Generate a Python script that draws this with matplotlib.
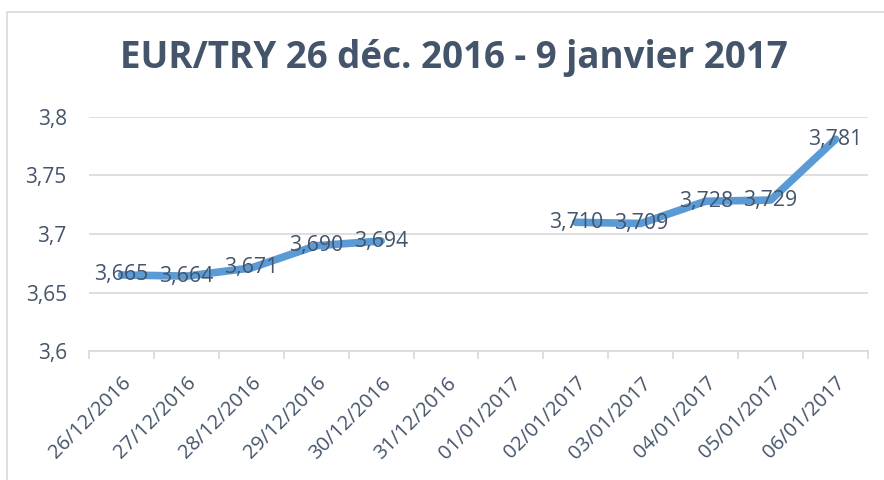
import numpy as np
import matplotlib
matplotlib.use("Agg")
import matplotlib.pyplot as plt
from matplotlib.patches import Rectangle
from matplotlib.ticker import FuncFormatter

dates = ["26/12/2016", "27/12/2016", "28/12/2016", "29/12/2016", "30/12/2016",
         "31/12/2016", "01/01/2017", "02/01/2017", "03/01/2017", "04/01/2017",
         "05/01/2017", "06/01/2017"]
rates = [3.665, 3.664, 3.671, 3.690, 3.694, np.nan, np.nan,
         3.710, 3.709, 3.728, 3.729, 3.781]
yticks = [3.6, 3.65, 3.7, 3.75, 3.8]

txt_col = "#44546A"
grid_col = "#D9D9D9"
line_col = "#5B9BD5"
plt.rcParams['font.family'] = ['Open Sans', 'DejaVu Sans']

fig = plt.figure(figsize=(8.84, 4.8), dpi=100)
W, H = 884, 480
ax = fig.add_axes([89 / W, 1 - 351 / H, (868 - 89) / W, (351 - 117) / H])

# chart frame
fig.patches.append(Rectangle((7 / W, -0.1), 1.2, 1.1 - 12 / H, transform=fig.transFigure,
                             fill=False, edgecolor=grid_col, linewidth=1.2))

x = np.arange(len(dates)) + 0.5
ax.plot(x, rates, color=line_col, linewidth=5.5, solid_capstyle="round",
        solid_joinstyle="round", zorder=3)

for xi, v in zip(x, rates):
    if np.isnan(v):
        continue
    ax.text(xi, v, ("%.3f" % v).replace(".", ","), ha="center", va="center",
            fontsize=15.3, color=txt_col, zorder=4)

ax.set_xlim(0, len(dates))
ax.set_ylim(3.6, 3.8)
ax.set_yticks(yticks)
ax.yaxis.set_major_formatter(FuncFormatter(lambda v, p: ("%g" % v).replace(".", ",")))
ax.grid(axis="y", color=grid_col, linewidth=1.2)
ax.set_axisbelow(True)

ax.set_xticks(x)
ax.set_xticklabels(dates, rotation=45, ha="right", va="top", rotation_mode="anchor")
ax.set_xticks(np.arange(len(dates) + 1), minor=True)
ax.tick_params(axis="x", which="major", length=0, pad=16, labelsize=14.5, labelcolor=txt_col)
ax.tick_params(axis="x", which="minor", length=6, color=grid_col, width=1.2)
ax.tick_params(axis="y", length=0, pad=16, labelsize=15, labelcolor=txt_col)

for s in ["top", "right", "left"]:
    ax.spines[s].set_visible(False)
ax.spines["bottom"].set_color(grid_col)
ax.spines["bottom"].set_linewidth(1.2)

fig.text(454 / W, 1 - 58 / H, "EUR/TRY 26 déc. 2016 - 9 janvier 2017", ha="center", va="center",
         fontsize=26.5, fontweight="bold", color=txt_col)

fig.savefig("out.png", dpi=100)
